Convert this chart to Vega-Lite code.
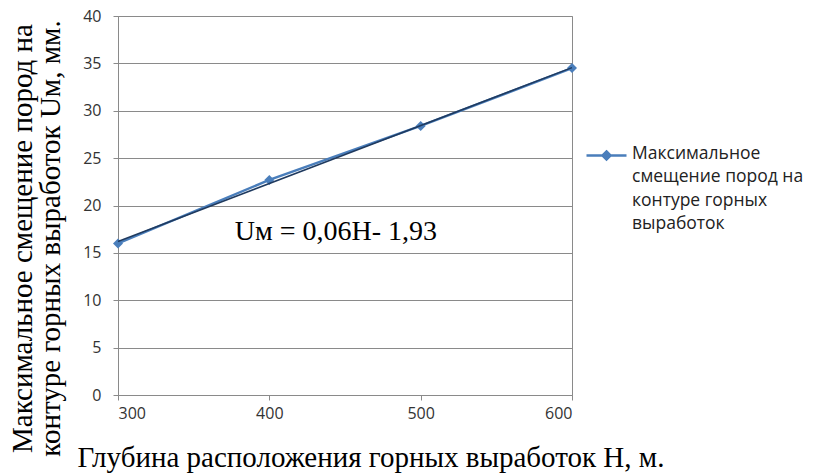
{
  "$schema": "https://vega.github.io/schema/vega-lite/v6.json",
  "autosize": {"type": "none"},
  "width": 454,
  "height": 379,
  "padding": {"left": 118, "top": 16, "right": 241, "bottom": 78},
  "background": "white",
  "config": {
    "view": {"stroke": "#8a8a8a", "strokeWidth": 1},
    "axis": {
      "labelFont": "Open Sans",
      "labelFontSize": 16,
      "labelColor": "#333333",
      "domainColor": "#8a8a8a",
      "tickColor": "#8a8a8a",
      "gridColor": "#8a8a8a",
      "tickSize": 5,
      "titleFont": "Liberation Serif",
      "titleFontWeight": "normal",
      "titleColor": "#000000"
    }
  },
  "datasets": {
    "pts": [
      {"H": 300, "U": 16.0, "series": "Максимальное|смещение пород на|контуре горных|выработок"},
      {"H": 400, "U": 22.7, "series": "Максимальное|смещение пород на|контуре горных|выработок"},
      {"H": 500, "U": 28.4, "series": "Максимальное|смещение пород на|контуре горных|выработок"},
      {"H": 600, "U": 34.5, "series": "Максимальное|смещение пород на|контуре горных|выработок"}
    ],
    "trend": [
      {"H": 300, "U": 16.2},
      {"H": 600, "U": 34.55}
    ],
    "note": [
      {"H": 444, "U": 17.2, "label": "Uм = 0,06Н- 1,93"}
    ]
  },
  "layer": [
    {
      "data": {"name": "pts"},
      "mark": {"type": "line", "strokeWidth": 2.5},
      "encoding": {
        "x": {
          "field": "H", "type": "quantitative",
          "scale": {"domain": [300, 600], "nice": false, "zero": false},
          "axis": {
            "values": [300, 400, 500, 600],
            "grid": false,
            "labelPadding": 5,
            "title": "Глубина расположения горных выработок Н, м.",
            "titleFontSize": 29,
            "titleAnchor": "start",
            "titleAlign": "left",
            "titleX": -41,
            "titleY": 71,
            "titleBaseline": "alphabetic"
          }
        },
        "y": {
          "field": "U", "type": "quantitative",
          "scale": {"domain": [0, 40], "nice": false},
          "axis": {
            "values": [0, 5, 10, 15, 20, 25, 30, 35, 40],
            "grid": true,
            "labelPadding": 12,
            "title": ["Максимальное смещение пород на", "контуре горных выработок  Uм,  мм."],
            "titleFontSize": 29,
            "titleAngle": -90,
            "titleAlign": "center",
            "titleBaseline": "top",
            "titleLineHeight": 28,
            "titleX": -110,
            "titleY": 222
          }
        },
        "color": {
          "field": "series", "type": "nominal",
          "scale": {"range": ["#4a7ebb"]},
          "legend": {
            "title": null,
            "orient": "none",
            "legendX": 467,
            "legendY": 118,
            "symbolType": "M-1,0L1,0M0,-0.2L0.2,0L0,0.2L-0.2,0Z",
            "symbolSize": 1600,
            "symbolStrokeWidth": 2.5,
            "symbolFillColor": "#4a7ebb",
            "labelFont": "Open Sans",
            "labelFontSize": 17.5,
            "labelColor": "#222222",
            "labelLimit": 0,
            "labelExpr": "split(datum.label, '|')",
            "labelBaseline": "top",
            "labelOffset": 4,
            "encode": {
              "labels": {"update": {"lineHeight": {"value": 23.5}, "dy": {"value": -11}}}
            }
          }
        }
      }
    },
    {
      "data": {"name": "pts"},
      "mark": {"type": "point", "shape": "diamond", "filled": true, "size": 100, "opacity": 1},
      "encoding": {
        "x": {"field": "H", "type": "quantitative"},
        "y": {"field": "U", "type": "quantitative"},
        "color": {"field": "series", "type": "nominal", "legend": null}
      }
    },
    {
      "data": {"name": "trend"},
      "mark": {"type": "line", "strokeWidth": 1.5, "color": "#1f3a5f"},
      "encoding": {
        "x": {"field": "H", "type": "quantitative"},
        "y": {"field": "U", "type": "quantitative"}
      }
    },
    {
      "data": {"name": "note"},
      "mark": {"type": "text", "font": "Liberation Serif", "fontSize": 28, "color": "#000000", "align": "center", "baseline": "middle"},
      "encoding": {
        "x": {"field": "H", "type": "quantitative"},
        "y": {"field": "U", "type": "quantitative"},
        "text": {"field": "label"}
      }
    }
  ]
}
